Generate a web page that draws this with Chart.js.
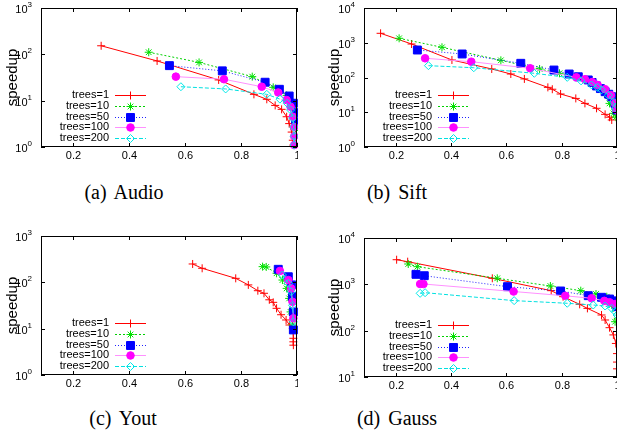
<!DOCTYPE html>
<html>
<head>
<meta charset="utf-8">
<script src="https://cdn.jsdelivr.net/npm/chart.js@4.4.0/dist/chart.umd.min.js"></script>
<style>
  body { margin: 0; background: #fff; }
  #wrap { position: relative; width: 617px; height: 435px; overflow: hidden; background: #fff; }
  canvas { position: absolute; }
  .caption { position: absolute; width: 200px; text-align: center; font: 20px "Liberation Serif", serif; word-spacing: 3px; line-height: 24px; color: #000; }
</style>
</head>
<body>
<div id="wrap">
  <canvas id="audio" width="298" height="170" style="left:0px;top:0px"></canvas>
  <canvas id="sift" width="307" height="170" style="left:310px;top:0px"></canvas>
  <canvas id="yout" width="298" height="170" style="left:0px;top:228px"></canvas>
  <canvas id="gauss" width="307" height="170" style="left:310px;top:230px"></canvas>
  <div class="caption" style="left:24px;top:180px">(a) Audio</div>
  <div class="caption" style="left:297px;top:180px">(b) Sift</div>
  <div class="caption" style="left:23px;top:406px">(c) Yout</div>
  <div class="caption" style="left:297px;top:406px">(d) Gauss</div>
</div>
<script>
'use strict';

// data: [recall, speedup]

var treeLabels = ['trees=1', 'trees=10', 'trees=50', 'trees=100', 'trees=200'];
var xTicks = [0.2, 0.4, 0.6, 0.8, 1];

var audioTrees1 = [[0.30, 153], [0.50, 72], [0.72, 28], [0.846, 13.7], [0.892, 10.7], [0.922, 7.9], [0.945, 6.5], [0.963, 4.5], [0.972, 3.2], [0.981, 2.1], [0.985, 1.4], [0.987, 1.1]];
var audioTrees10 = [[0.47, 111], [0.65, 67], [0.84, 33], [0.915, 19.4], [0.963, 13], [0.98, 8], [0.99, 4.5], [0.995, 2.5]];
var audioTrees50 = [[0.544, 57], [0.733, 44], [0.886, 25], [0.937, 17.6], [0.972, 12.6], [0.987, 8.8], [0.993, 5.5], [0.995, 3.5]];
var audioTrees100 = [[0.567, 33], [0.739, 29], [0.874, 20], [0.933, 15], [0.963, 10.3], [0.977, 7.4], [0.985, 4.5], [0.99, 2.7], [0.99, 1.7], [0.99, 1.1]];
var audioTrees200 = [[0.585, 20], [0.745, 17.9], [0.892, 13.7], [0.939, 10.8], [0.965, 8.8], [0.977, 6.3], [0.985, 4.2], [0.988, 2.7], [0.99, 1.7], [0.99, 1.1]];

var siftTrees1 = [[0.145, 1870], [0.257, 920], [0.403, 319], [0.547, 176], [0.616, 126], [0.665, 91], [0.75, 52], [0.766, 46], [0.796, 33.5], [0.851, 25], [0.884, 18], [0.926, 13], [0.957, 8.7], [0.973, 7.2], [0.981, 6]];
var siftTrees10 = [[0.212, 1343], [0.367, 740], [0.58, 312], [0.72, 176], [0.792, 132], [0.853, 105], [0.908, 76], [0.944, 49], [0.963, 31], [0.973, 18], [0.987, 9.3], [0.996, 7.2]];
var siftTrees50 = [[0.278, 618], [0.44, 475], [0.652, 256], [0.772, 164], [0.827, 126], [0.86, 105], [0.896, 85], [0.91, 72], [0.926, 57], [0.94, 48], [0.957, 39], [0.97, 33], [0.981, 28], [0.993, 18], [1.0, 11.6]];
var siftTrees100 = [[0.306, 357], [0.473, 285], [0.686, 184], [0.853, 101], [0.884, 89], [0.91, 74], [0.93, 61], [0.957, 46], [0.978, 31], [0.993, 18], [1.0, 11.6]];
var siftTrees200 = [[0.318, 219], [0.482, 191], [0.701, 132], [0.82, 101], [0.87, 80], [0.908, 61], [0.93, 52], [0.944, 44], [0.969, 31], [0.987, 20], [0.996, 13]];

var youtTrees1 = [[0.627, 249], [0.661, 201], [0.781, 122], [0.826, 88], [0.86, 66], [0.882, 58], [0.901, 42], [0.915, 37], [0.927, 27.5], [0.943, 20], [0.961, 15.4], [0.973, 12], [0.985, 10], [0.987, 6.2], [0.987, 5.2], [0.987, 4.4]];
var youtTrees10 = [[0.877, 218], [0.89, 215], [0.927, 157], [0.948, 112], [0.963, 74], [0.972, 45], [0.977, 23], [0.984, 12]];
var youtTrees50 = [[0.933, 191], [0.969, 132], [0.981, 88], [0.984, 49], [0.987, 23], [0.987, 9.4]];
var youtTrees100 = [[0.939, 176], [0.969, 112], [0.979, 74], [0.984, 38], [0.987, 16.7]];
var youtTrees200 = [[0.948, 144], [0.969, 95], [0.979, 63], [0.984, 32], [0.987, 14]];

var gaussTrees1 = [[0.203, 3400], [0.243, 3083], [0.549, 1350], [0.762, 730], [0.805, 541], [0.865, 370], [0.893, 303], [0.944, 218], [0.957, 170], [0.973, 116], [0.987, 81], [0.996, 53], [1.0, 32], [1.0, 21], [1.0, 15]];
var gaussTrees10 = [[0.245, 2748], [0.278, 2404], [0.567, 1350], [0.759, 920], [0.869, 730], [0.924, 618], [0.963, 540], [0.981, 358], [0.993, 156]];
var gaussTrees50 = [[0.273, 1644], [0.303, 1535], [0.604, 890], [0.796, 718], [0.896, 569], [0.944, 525], [0.973, 482], [0.993, 440], [1.0, 329]];
var gaussTrees100 = [[0.288, 1016], [0.30, 1016], [0.626, 700], [0.813, 565], [0.908, 500], [0.954, 440], [0.973, 410], [0.993, 376]];
var gaussTrees200 = [[0.288, 640], [0.306, 660], [0.628, 445], [0.82, 390], [0.914, 358], [0.957, 340], [0.981, 303], [0.993, 258], [1.0, 218]];

var audioTicks = [1, 10, 100, 1000];
var siftTicks = [1, 10, 100, 1000, 10000];
var youtTicks = [1, 10, 100, 1000];
var gaussTicks = [10, 100, 1000, 10000];

// styles for each tree count

var lineColors = ['#ff0000', '#00d000', '#2020ff', '#ff90ff', '#00e0e0'];
var markColors = ['#ff0000', '#00e000', '#0000ff', '#ff00ff', '#00e8e8'];
var markFills = ['#ff0000', '#00e000', '#0000ff', '#ff00ff', 'rgba(0,0,0,0)'];
var markStyles = ['cross', 'star', 'rect', 'circle', 'rectRot'];
var markSizes = [4, 4, 5.6, 3.8, 4];
var lineDashes = [[], [2, 2], [1, 2], [], [4, 2]];

var fontSans = '"Liberation Sans", Arial, sans-serif';

function makeDatasets(series) {
  var sets = [];
  for (var i = 0; i < series.length; i++) {
    sets.push({
      label: treeLabels[i],
      data: series[i].map(function(p) { return { x: p[0], y: p[1] }; }),
      borderColor: lineColors[i],
      backgroundColor: markFills[i],
      borderWidth: 1,
      borderDash: lineDashes[i],
      pointStyle: markStyles[i],
      pointRadius: markSizes[i],
      pointBorderColor: markColors[i],
      pointBackgroundColor: markFills[i],
      pointBorderWidth: 1,
      tension: 0,
      clip: false,
      order: series.length - i
    });
  }
  return sets;
}

// frame, ticks, tick labels, y title and key, drawn the gnuplot way

var gnuplotLook = {
  id: 'gnuplotLook',
  afterDraw: function(chart) {
    var ctx = chart.ctx;
    var area = chart.chartArea;
    var xs = chart.scales.x;
    var ys = chart.scales.y;
    var opts = chart.options.plugins.gnuplotLook;
    var i, p;

    ctx.save();
    ctx.strokeStyle = '#000';
    ctx.fillStyle = '#000';
    ctx.lineWidth = 1;
    ctx.setLineDash([]);

    // border
    ctx.strokeRect(area.left + 0.5, area.top + 0.5, area.right - area.left - 1, area.bottom - area.top - 1);

    // x ticks and labels
    ctx.font = '11px ' + fontSans;
    ctx.textAlign = 'center';
    ctx.textBaseline = 'middle';
    for (i = 0; i < xTicks.length; i++) {
      p = Math.round(xs.getPixelForValue(xTicks[i])) + 0.5;
      ctx.beginPath();
      ctx.moveTo(p, area.bottom);
      ctx.lineTo(p, area.bottom - 4);
      ctx.moveTo(p, area.top);
      ctx.lineTo(p, area.top + 4);
      ctx.stroke();
      ctx.fillText(String(xTicks[i]), p, area.bottom + 9);
    }

    // y ticks and labels as 10 with a raised exponent
    var yt = opts.ticks;
    for (i = 0; i < yt.length; i++) {
      p = Math.round(ys.getPixelForValue(yt[i])) + 0.5;
      ctx.beginPath();
      ctx.moveTo(area.left, p);
      ctx.lineTo(area.left + 4, p);
      ctx.moveTo(area.right, p);
      ctx.lineTo(area.right - 4, p);
      ctx.stroke();
      var expo = String(Math.round(Math.log10(yt[i])));
      ctx.font = '8px ' + fontSans;
      var ew = ctx.measureText(expo).width;
      ctx.textAlign = 'left';
      ctx.fillText(expo, area.left - 9 - ew, p - 4);
      ctx.font = '11px ' + fontSans;
      ctx.textAlign = 'right';
      ctx.fillText('10', area.left - 9 - ew, p + 1.5);
    }

    // y title
    ctx.save();
    ctx.translate(opts.titleX, (area.top + area.bottom) / 2);
    ctx.rotate(-Math.PI / 2);
    ctx.font = '15px ' + fontSans;
    ctx.textAlign = 'center';
    ctx.textBaseline = 'middle';
    ctx.fillText('speedup', 0, 0);
    ctx.restore();

    // key in the lower left corner
    var sets = chart.data.datasets;
    for (i = 0; i < sets.length; i++) {
      var y = area.bottom - 52 + i * 10.8;
      ctx.font = '11px ' + fontSans;
      ctx.textAlign = 'right';
      ctx.textBaseline = 'middle';
      ctx.fillStyle = '#000';
      ctx.fillText(sets[i].label, area.left + 68, y);
      ctx.strokeStyle = sets[i].borderColor;
      ctx.setLineDash(sets[i].borderDash);
      ctx.beginPath();
      ctx.moveTo(area.left + 74, Math.round(y) + 0.5);
      ctx.lineTo(area.left + 105, Math.round(y) + 0.5);
      ctx.stroke();
      ctx.setLineDash([]);
      ctx.strokeStyle = sets[i].pointBorderColor;
      ctx.fillStyle = sets[i].pointBackgroundColor;
      ctx.lineWidth = 1;
      Chart.helpers.drawPoint(ctx, {
        pointStyle: sets[i].pointStyle,
        radius: sets[i].pointRadius,
        rotation: 0,
        borderWidth: 1
      }, area.left + 89.5, Math.round(y) + 0.5);
    }
    ctx.restore();
  }
};

function makePanel(id, series, yTicks, leftWidth, rightPad, titleX) {
  var ctx = document.getElementById(id).getContext('2d');
  return new Chart(ctx, {
    type: 'line',
    data: { datasets: makeDatasets(series) },
    options: {
      responsive: false,
      animation: false,
      layout: { autoPadding: false, padding: { top: 8, right: rightPad, left: 0, bottom: 0 } },
      scales: {
        x: {
          type: 'linear',
          min: 0.085,
          max: 1,
          ticks: { display: false },
          grid: { display: false },
          border: { display: false },
          afterFit: function(s) { s.height = 23; }
        },
        y: {
          type: 'logarithmic',
          min: yTicks[0],
          max: yTicks[yTicks.length - 1],
          ticks: { display: false },
          grid: { display: false },
          border: { display: false },
          afterFit: function(s) { s.width = leftWidth; }
        }
      },
      plugins: {
        legend: { display: false },
        tooltip: { enabled: false },
        gnuplotLook: { ticks: yTicks, titleX: titleX }
      }
    },
    plugins: [gnuplotLook]
  });
}

makePanel('audio', [audioTrees1, audioTrees10, audioTrees50, audioTrees100, audioTrees200], audioTicks, 41, 1, 13);
makePanel('sift', [siftTrees1, siftTrees10, siftTrees50, siftTrees100, siftTrees200], siftTicks, 54, 0, 25);
makePanel('yout', [youtTrees1, youtTrees10, youtTrees50, youtTrees100, youtTrees200], youtTicks, 41, 1, 13);
makePanel('gauss', [gaussTrees1, gaussTrees10, gaussTrees50, gaussTrees100, gaussTrees200], gaussTicks, 54, 0, 25);
</script>
</body>
</html>
